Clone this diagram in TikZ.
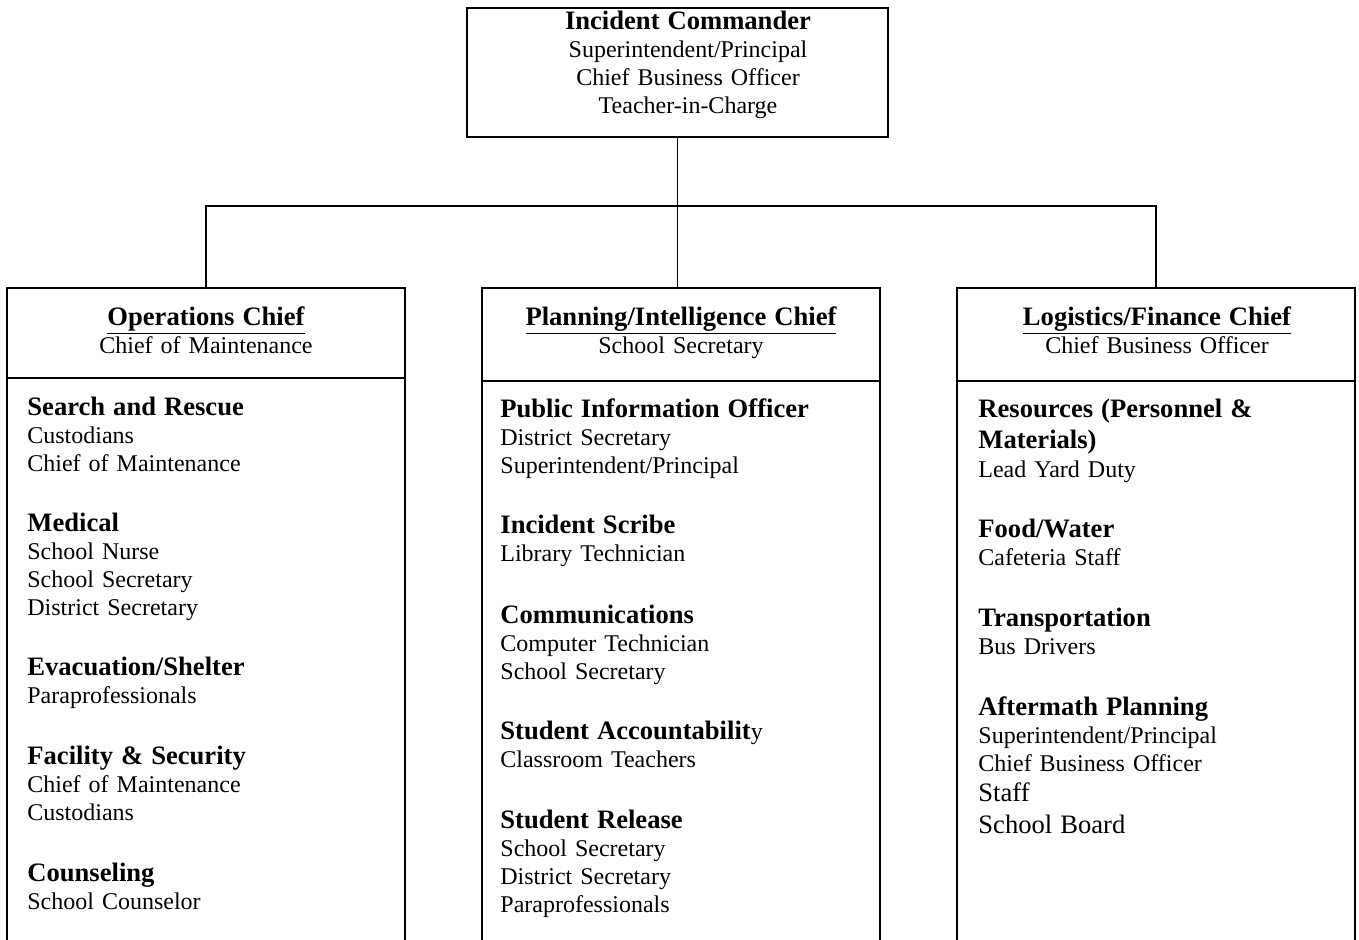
\documentclass[tikz,border=0pt]{standalone}
\usepackage{fontspec}
\setmainfont[WordSpace=0.85]{Liberation Serif}
\usetikzlibrary{positioning}
\newcommand{\hd}[1]{{\fontsize{13.3}{14}\selectfont\bfseries #1}}
\newcommand{\bg}[1]{{\fontsize{13.3}{14}\selectfont #1}}
\tikzset{
  box/.style={draw, line width=0.8pt, inner sep=0pt, outer sep=0pt},
  txt/.style={inner sep=0pt, anchor=north west, align=left, text width=180pt, font=\fontsize{12}{14}\selectfont},
  ttl/.style={inner sep=0pt, anchor=north, align=center, text width=200pt, font=\fontsize{12}{14}\selectfont},
  link/.style={line width=0.7pt},
}
\begin{document}
\begin{tikzpicture}[x=0.5pt, y=-0.5pt]
\clip (0,0) rectangle (1359,939);
% top box
\node[box, minimum width=210.5pt, minimum height=64.5pt] (ic) at (677.5,72.5){};
\node[ttl] (ict) at (688,11){\hd{Incident Commander}\\Superintendent/Principal\\Chief Business Officer\\Teacher-in-Charge};
% section heads
\node[box, minimum width=199pt, minimum height=45pt] (opsh) at (206,333){};
\node[box, minimum width=199pt, minimum height=46.5pt] (planh) at (681,334.5){};
\node[box, minimum width=199pt, minimum height=46.5pt] (logh) at (1156,334.5){};
\node[box, minimum width=199pt, minimum height=291pt, below=0pt of opsh] (opsb){};
\node[box, minimum width=199pt, minimum height=289.5pt, below=0pt of planh] (planb){};
\node[box, minimum width=199pt, minimum height=289.5pt, below=0pt of logh] (logb){};
\node[ttl] (opst) at (206,306){\hd{\underline{Operations Chief}}\\Chief of Maintenance};
\node[ttl] (plant) at (681,306){\hd{\underline{Planning/Intelligence Chief}}\\School Secretary};
\node[ttl] (logt) at (1157,306){\hd{\underline{Logistics/Finance Chief}}\\Chief Business Officer};
% links
\coordinate (bus) at (677.5,206);
\draw[link] (ic.south) -- (bus);
\draw[link] (opsh.north) |- (bus) -| (logh.north);
\draw[link] (bus) -- (bus |- planh.north);
% operations
\node[txt] (ops1) at (27,397){\hd{Search and Rescue}\\Custodians\\Chief of Maintenance};
\node[txt] (ops2) at (27,513){\hd{Medical}\\School Nurse\\School Secretary\\District Secretary};
\node[txt] (ops3) at (27,657){\hd{Evacuation/Shelter}\\Paraprofessionals};
\node[txt] (ops4) at (27,746){\hd{Facility \& Security}\\Chief of Maintenance\\Custodians};
\node[txt] (ops5) at (27,863){\hd{Counseling}\\School Counselor};
% planning
\node[txt] (plan1) at (500,398){\hd{Public Information Officer}\\District Secretary\\Superintendent/Principal};
\node[txt] (plan2) at (500,515){\hd{Incident Scribe}\\Library Technician};
\node[txt] (plan3) at (500,605){\hd{Communications}\\Computer Technician\\School Secretary};
\node[txt] (plan4) at (500,721){\hd{Student Accountabilit}y\\Classroom Teachers};
\node[txt] (plan5) at (500,810){\hd{Student Release}\\School Secretary\\District Secretary\\Paraprofessionals};
% logistics
\node[txt] (log1) at (978,399){\hd{Resources (Personnel \&}\\[1.5pt]\hd{Materials)}\\[0.5pt]Lead Yard Duty};
\node[txt] (log2) at (978,519){\hd{Food/Water}\\Cafeteria Staff};
\node[txt] (log3) at (978,608){\hd{Transportation}\\Bus Drivers};
\node[txt] (log4) at (978,696){\hd{Aftermath Planning}\\Superintendent/Principal\\Chief Business Officer\\[1pt]\bg{Staff}\\[2pt]\bg{School Board}};
\end{tikzpicture}
\end{document}
